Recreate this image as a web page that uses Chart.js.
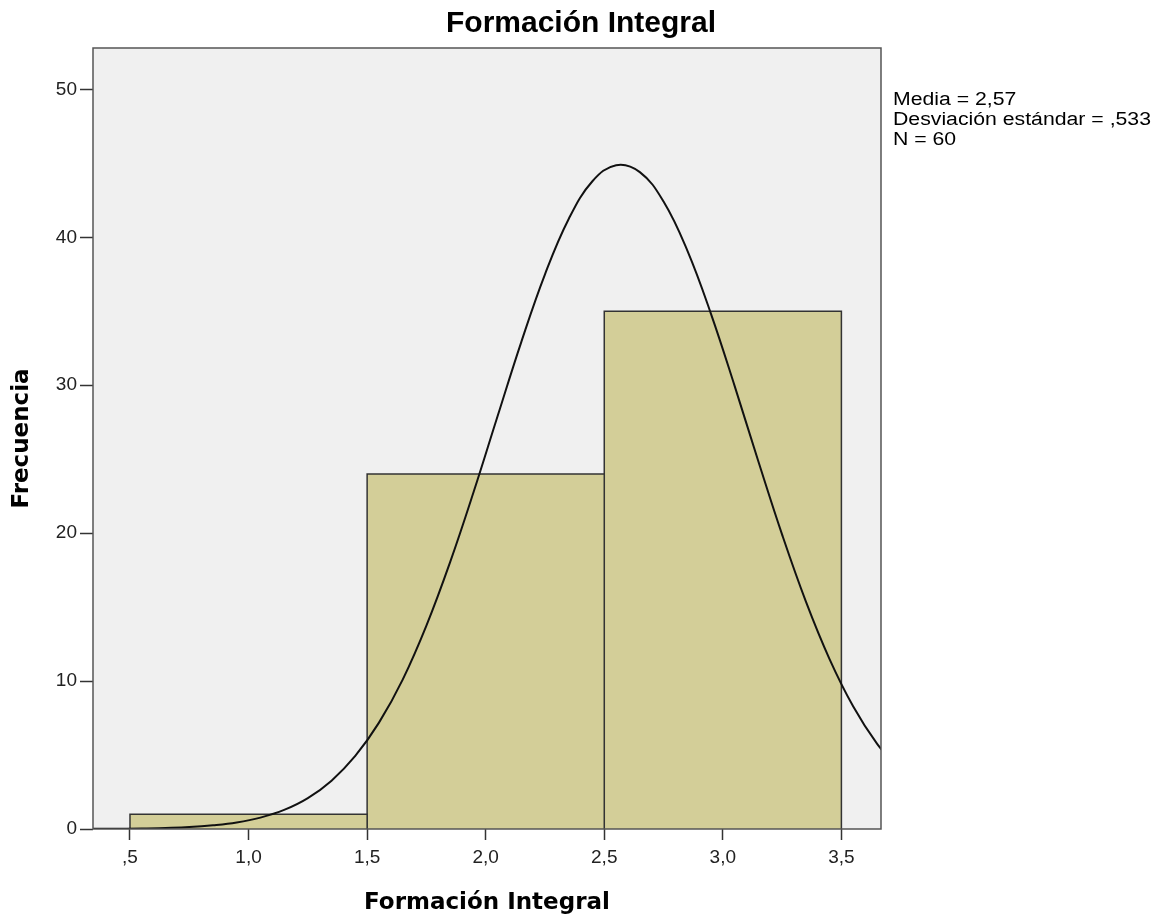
<!DOCTYPE html>
<html>
<head>
<meta charset="utf-8">
<script src="https://cdn.jsdelivr.net/npm/chart.js@4.4.1/dist/chart.umd.min.js"></script>
<style>
  html, body { margin: 0; padding: 0; background: #ffffff; }
  #wrap { width: 1157px; height: 917px; }
</style>
</head>
<body>
<div id="wrap"><canvas id="histChart" width="1157" height="917"></canvas></div>
<script>
// Histogram bins (edges) and counts
const binEdges = [0.5, 1.5, 2.5, 3.5];
const binCounts = [1, 24, 35];

// Normal curve
const curveX = [0.25, 0.35, 0.45, 0.55, 0.65, 0.75, 0.85, 0.95, 1.05, 1.15, 1.25, 1.35, 1.45, 1.55, 1.65, 1.75, 1.85, 1.95, 2.05, 2.15, 2.25, 2.35, 2.45, 2.55, 2.65, 2.75, 2.85, 2.95, 3.05, 3.15, 3.25, 3.35, 3.45, 3.55, 3.65, 3.75];
const curveY = [0.00, 0.01, 0.02, 0.03, 0.07, 0.13, 0.25, 0.44, 0.77, 1.29, 2.09, 3.27, 4.94, 7.19, 10.1, 13.75, 18.04, 22.83, 27.9, 32.92, 37.5, 41.24, 43.79, 44.88, 44.41, 42.42, 39.12, 34.83, 29.94, 24.84, 19.9, 15.39, 11.49, 8.28, 5.77, 3.87];

// Axis ticks
const xTicks = [0.5, 1.0, 1.5, 2.0, 2.5, 3.0, 3.5];
const xTickLabels = [',5', '1,0', '1,5', '2,0', '2,5', '3,0', '3,5'];
const yTicks = [0, 10, 20, 30, 40, 50];

const statsLines = ['Media = 2,57', 'Desviación estándar = ,533', 'N = 60'];

const barFill = '#d3ce98';
const lineDark = '#333333';
const sansFont = '"Liberation Sans", Arial, sans-serif';
const boldFont = '"DejaVu Sans", Verdana, sans-serif';

// one closed rectangle per bin
let datasets = [];
for (let i = 0; i < binCounts.length; i++) {
    datasets.push({
        label: 'bin' + i,
        data: [
            {x: binEdges[i], y: 0},
            {x: binEdges[i], y: binCounts[i]},
            {x: binEdges[i + 1], y: binCounts[i]},
            {x: binEdges[i + 1], y: 0}
        ],
        backgroundColor: barFill,
        borderColor: lineDark,
        borderWidth: 1.5,
        fill: 'origin',
        pointRadius: 0,
        tension: 0,
        order: 2
    });
}
datasets.push({
    label: 'Normal',
    data: curveX.map((x, i) => ({x: x, y: curveY[i]})),
    borderColor: '#111111',
    borderWidth: 2,
    fill: false,
    pointRadius: 0,
    tension: 0.4,
    order: 1
});

// background, frame, title and stats text
const decorPlugin = {
    id: 'decor',
    beforeDatasetsDraw(chart) {
        const ctx = chart.ctx;
        const a = chart.chartArea;
        ctx.save();
        ctx.fillStyle = '#f0f0f0';
        ctx.fillRect(a.left, a.top, a.right - a.left, a.bottom - a.top);
        ctx.restore();
    },
    afterDraw(chart) {
        const ctx = chart.ctx;
        const a = chart.chartArea;
        ctx.save();
        ctx.strokeStyle = '#555555';
        ctx.lineWidth = 1.5;
        ctx.strokeRect(a.left, a.top, a.right - a.left, a.bottom - a.top);
        ctx.fillStyle = '#000000';
        ctx.font = 'bold 30px ' + sansFont;
        ctx.textAlign = 'center';
        ctx.textBaseline = 'middle';
        ctx.fillText('Formación Integral', 581, 24);

        // SPSS stats box text is drawn a bit wide
        ctx.font = '18px ' + sansFont;
        ctx.textAlign = 'left';
        ctx.textBaseline = 'alphabetic';
        statsLines.forEach((t, i) => {
            ctx.save();
            ctx.translate(a.right + 12, 105 + i * 20);
            ctx.scale(1.18, 1);
            ctx.fillText(t, 0, 0);
            ctx.restore();
        });
        ctx.restore();
    }
};

new Chart(document.getElementById('histChart').getContext('2d'), {
    type: 'line',
    data: { datasets: datasets },
    options: {
        responsive: false,
        animation: false,
        layout: { padding: { top: 48, right: 276, left: 0, bottom: 0 } },
        plugins: {
            legend: { display: false },
            tooltip: { enabled: false }
        },
        scales: {
            x: {
                type: 'linear',
                min: 0.344,
                max: 3.667,
                afterBuildTicks: (scale) => { scale.ticks = xTicks.map(v => ({value: v})); },
                afterFit: (scale) => { scale.height = 88; },
                ticks: {
                    callback: (v) => xTickLabels[xTicks.indexOf(v)],
                    color: '#222222',
                    font: { size: 19, family: sansFont },
                    padding: 6,
                    maxRotation: 0,
                    autoSkip: false
                },
                grid: {
                    drawOnChartArea: false,
                    drawTicks: true,
                    tickLength: 11,
                    tickColor: lineDark,
                    tickWidth: 1.5
                },
                border: { display: false },
                title: {
                    display: true,
                    text: 'Formación Integral',
                    color: '#000000',
                    font: { size: 23, weight: 'bold', family: boldFont },
                    padding: { top: 8, bottom: 0 }
                }
            },
            y: {
                type: 'linear',
                min: 0,
                max: 52.8,
                afterBuildTicks: (scale) => { scale.ticks = yTicks.map(v => ({value: v})); },
                afterFit: (scale) => { scale.width = 93; },
                ticks: {
                    color: '#222222',
                    font: { size: 19, family: sansFont },
                    padding: 3
                },
                grid: {
                    drawOnChartArea: false,
                    drawTicks: true,
                    tickLength: 13,
                    tickColor: lineDark,
                    tickWidth: 1.5
                },
                border: { display: false },
                title: {
                    display: true,
                    text: 'Frecuencia',
                    color: '#000000',
                    font: { size: 23, weight: 'bold', family: boldFont },
                    padding: { top: 8, bottom: 0 }
                }
            }
        }
    },
    plugins: [decorPlugin]
});
</script>
</body>
</html>
